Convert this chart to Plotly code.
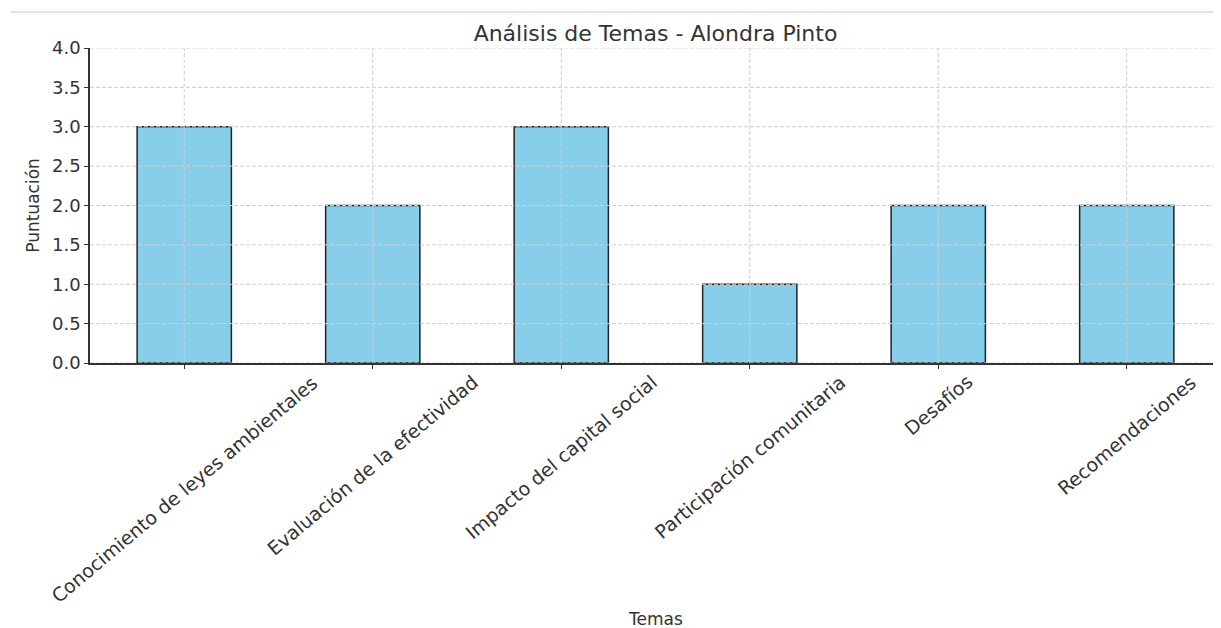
import plotly.graph_objects as go

categories = [
    "Conocimiento de leyes ambientales",
    "Evaluación de la efectividad",
    "Impacto del capital social",
    "Participación comunitaria",
    "Desafíos",
    "Recomendaciones",
]
scores = [3, 2, 3, 1, 2, 2]
y_ticks = [0.0, 0.5, 1.0, 1.5, 2.0, 2.5, 3.0, 3.5, 4.0]

FONT = "DejaVu Sans"
TXT = "#333333"
GRID = "#cfcfcf"

fig = go.Figure()
fig.add_trace(go.Bar(
    x=categories, y=scores,
    marker=dict(color="#87CEEB", line=dict(color="#222222", width=1.5)),
    width=0.5,
))

# grid above bars (matplotlib style)
for v in y_ticks:
    fig.add_shape(type="line", xref="paper", yref="y", x0=0, x1=1, y0=v, y1=v,
                  line=dict(color=GRID, width=1, dash="4px,2px"), layer="above")
for c in categories:
    fig.add_shape(type="line", xref="x", yref="paper", x0=c, x1=c, y0=0, y1=1,
                  line=dict(color=GRID, width=1, dash="4px,2px"), layer="above")

# rotated category labels, centered under ticks
for c in categories:
    fig.add_annotation(x=c, y=0, xref="x", yref="paper", text=c, showarrow=False,
                       textangle=-40, xanchor="center", yanchor="top", yshift=-5,
                       font=dict(family=FONT, size=19, color=TXT))

# x axis title
fig.add_annotation(x=0.5, y=0, xref="paper", yref="paper", text="Temas", showarrow=False,
                   xanchor="center", yanchor="middle", yshift=-256,
                   font=dict(family=FONT, size=17, color=TXT))

# thin top border line
fig.add_shape(type="line", xref="paper", yref="paper", x0=-0.07, x1=1.0,
              y0=1.114, y1=1.114, line=dict(color="#c8c8c8", width=1))

fig.update_layout(
    width=1213, height=620,
    margin=dict(l=82, r=0, t=40, b=265),
    plot_bgcolor="white", paper_bgcolor="white",
    showlegend=False,
    font=dict(family=FONT, color=TXT),
    title=dict(text="Análisis de Temas - Alondra Pinto", x=0.5, xref="paper",
               xanchor="center", y=1 - 25 / 620, yanchor="middle",
               font=dict(family=FONT, size=22, color=TXT)),
)
fig.update_xaxes(
    range=[-0.5, 5.5], showgrid=False, showticklabels=False,
    showline=True, linecolor="#333333", linewidth=1.5,
    ticks="outside", ticklen=4, tickcolor="#333333",
)
fig.update_yaxes(
    range=[0, 4], tickvals=y_ticks, tickformat=".1f", showgrid=False, zeroline=False,
    showline=True, linecolor="#333333", linewidth=1.5,
    ticks="outside", ticklen=4, tickcolor="#333333",
    tickfont=dict(family=FONT, size=18, color=TXT),
    title=dict(text="Puntuación", font=dict(family=FONT, size=17, color=TXT), standoff=8),
)

fig.write_html("out.html")
